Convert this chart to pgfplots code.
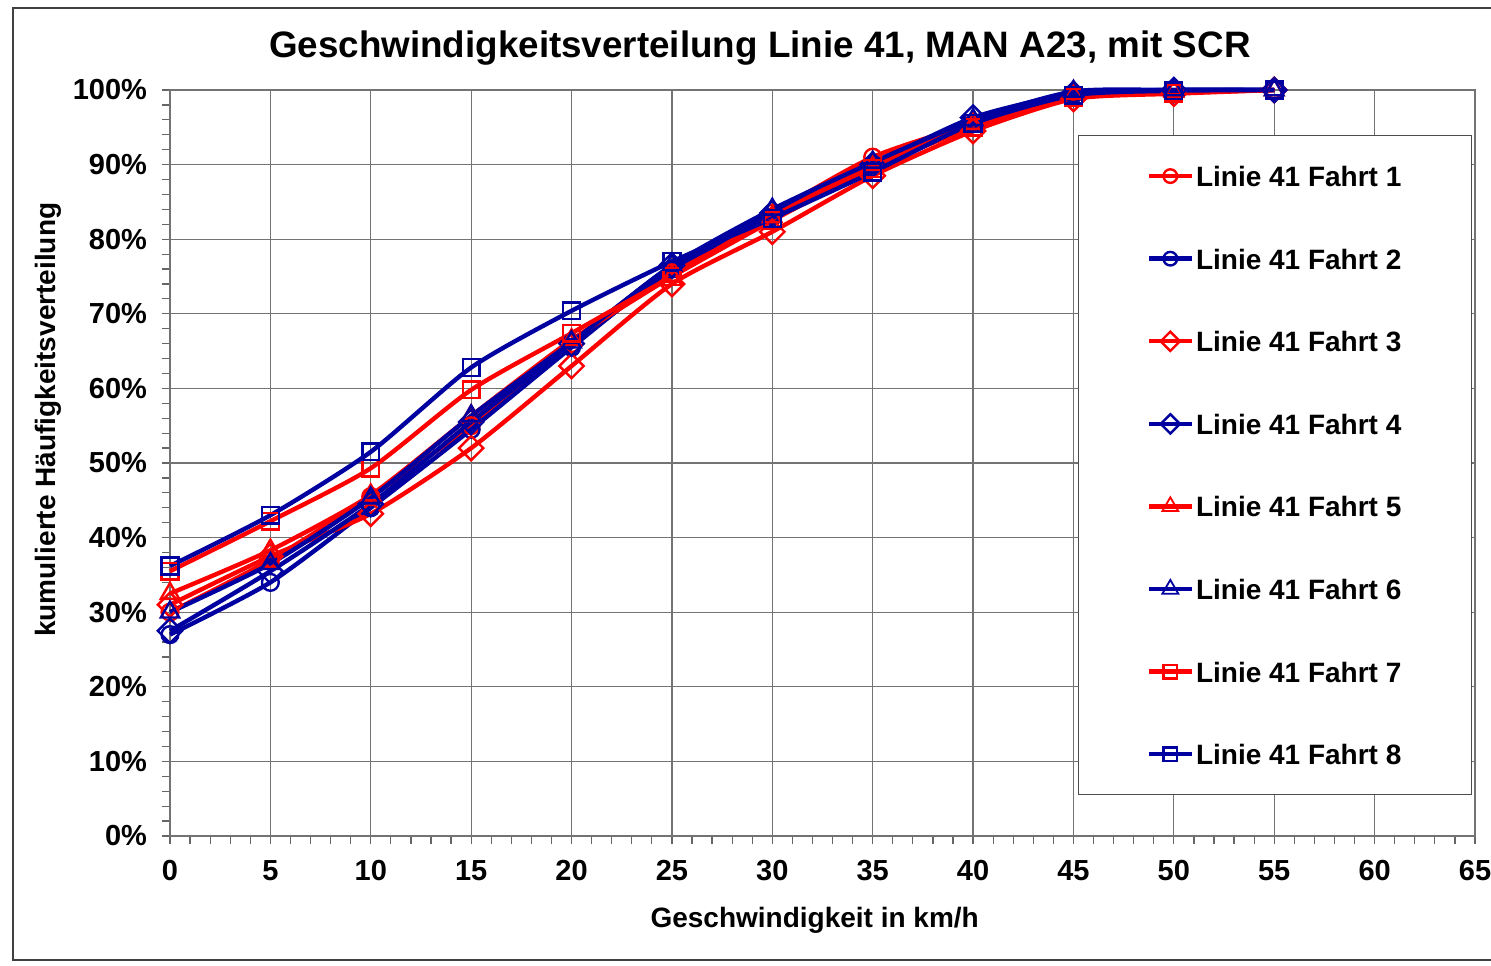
\documentclass[border=0pt]{standalone}
\usepackage{fontspec}
\setmainfont{Liberation Sans}
\usepackage{pgfplots}
\pgfplotsset{compat=1.18}
\usetikzlibrary{calc}
\definecolor{lred}{RGB}{255,0,0}
\definecolor{lblue}{RGB}{0,0,160}
\begin{document}
\begin{tikzpicture}
\begin{axis}[
  scale only axis, width=652.5pt, height=373pt,
  xmin=0, xmax=65, ymin=0, ymax=100,
  xtick={0,5,...,65}, ytick={0,10,...,100},
  minor x tick num=4, minor y tick num=4,
  tick align=outside, xtick pos=left, ytick pos=left,
  major tick length=4pt, minor tick length=4pt,
  tick style={black!60, line width=0.6pt},
  grid=major, major grid style={black!55, line width=0.6pt},
  axis line style={black!55, line width=0.6pt},
  /pgf/number format/assume math mode=true,
  tick label style={font=\fontsize{14.5}{16}\selectfont\bfseries},
  yticklabel={\pgfmathprintnumber{\tick}\%},
  xticklabel style={yshift=-4.5pt},
  yticklabel style={xshift=-4pt},
  title={Geschwindigkeitsverteilung Linie 41, MAN A23, mit SCR},
  title style={at={(axis description cs:0.452,1)}, anchor=center, yshift=15pt, font=\fontsize{18.4}{22}\selectfont\bfseries},
  xlabel={Geschwindigkeit in km/h},
  xlabel style={at={(axis description cs:0.494,0)}, anchor=center, yshift=-42pt, font=\fontsize{14}{16}\selectfont\bfseries},
  ylabel={kumulierte Häufigkeitsverteilung},
  ylabel style={at={(axis description cs:-0.0935,0.558)}, anchor=center, font=\fontsize{14}{16}\selectfont\bfseries},
  every axis plot/.append style={line width=2.2pt, smooth, tension=0.4, mark size=4.2pt, mark options={solid, fill=white, line width=1.2pt}},
  diam/.style={mark=square, mark size=4.3pt, mark options={solid, fill=white, line width=1.2pt, rotate=45}},
  tri/.style={mark=triangle, mark size=5.3pt, legend image post style={mark size=4.6pt, mark options={solid, fill=white, line width=0.9pt}}},
  legend image post style={mark size=3.4pt},
  legend cell align=left,
  legend style={at={(axis description cs:0.6958,0.9397)}, anchor=north west, draw=black!70, line width=0.6pt, fill=white,
    inner xsep=34pt, inner ysep=15pt, row sep=30.8pt,
    font=\fontsize{14}{16}\selectfont\bfseries,
    nodes={inner xsep=1pt, inner ysep=0pt, text height=10.5pt, text depth=0pt}},
  legend image code/.code={\draw[mark repeat=2, mark phase=2, #1] plot coordinates {(0pt,0pt) (10.75pt,0pt) (21.5pt,0pt)};},
  clip=false,
]
\addplot[lred, mark=o] coordinates {(0,30) (5,37) (10,45.5) (15,55) (20,66) (25,75.5) (30,83.5) (35,91) (40,95.5) (45,99.5) (50,99.8) (55,100)};
\addlegendentry{Linie 41 Fahrt 1}
\addplot[lblue, mark=o] coordinates {(0,27) (5,34) (10,44) (15,54.5) (20,65.5) (25,76) (30,83) (35,90) (40,95.5) (45,99.5) (50,100) (55,100)};
\addlegendentry{Linie 41 Fahrt 2}
\addplot[lred, diam] coordinates {(0,31) (5,37.5) (10,43.2) (15,52) (20,63) (25,74) (30,81) (35,88.5) (40,94.5) (45,98.8) (50,99.5) (55,100)};
\addlegendentry{Linie 41 Fahrt 3}
\addplot[lblue, diam] coordinates {(0,27.5) (5,35.5) (10,44.5) (15,55.5) (20,66) (25,76.5) (30,83.5) (35,90) (40,96.3) (45,99.5) (50,100) (55,100)};
\addlegendentry{Linie 41 Fahrt 4}
\addplot[lred, tri] coordinates {(0,32.5) (5,38.3) (10,45.7) (15,56.3) (20,66.5) (25,75) (30,83) (35,90) (40,95.5) (45,99.5) (50,99.8) (55,100)};
\addlegendentry{Linie 41 Fahrt 5}
\addplot[lblue, tri] coordinates {(0,30) (5,36.5) (10,45.3) (15,56.3) (20,66.2) (25,76.5) (30,84) (35,90.3) (40,96) (45,99.8) (50,100) (55,100)};
\addlegendentry{Linie 41 Fahrt 6}
\addplot[lred, mark=square] coordinates {(0,35.5) (5,42.2) (10,49.3) (15,59.8) (20,67.4) (25,75) (30,82.5) (35,89.5) (40,95) (45,99) (50,99.6) (55,100)};
\addlegendentry{Linie 41 Fahrt 7}
\addplot[lblue, mark=square] coordinates {(0,36.2) (5,43) (10,51.5) (15,62.8) (20,70.4) (25,77) (30,82.8) (35,89) (40,95.5) (45,99.3) (50,99.9) (55,100)};
\addlegendentry{Linie 41 Fahrt 8}
\coordinate (ll) at (rel axis cs:0,0);
\end{axis}
\draw[black!75, line width=0.7pt] ($(ll)+(-78.5pt,-62pt)$) rectangle ($(ll)+(670pt,414pt)$);
\pgfresetboundingbox
\useasboundingbox ($(ll)+(-85pt,-64.5pt)$) rectangle ($(ll)+(660.5pt,418pt)$);
\end{tikzpicture}
\end{document}
